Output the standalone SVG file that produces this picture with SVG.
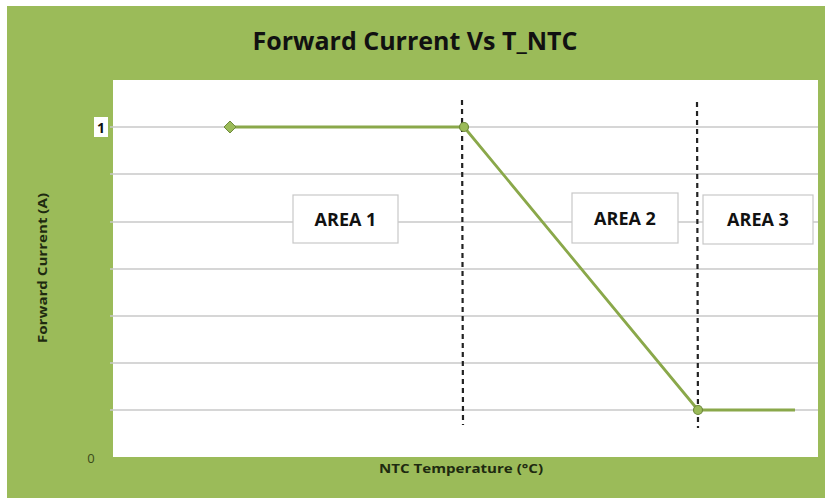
<svg xmlns="http://www.w3.org/2000/svg" width="825" height="498" viewBox="0 0 825 498">
<style>
.grid{stroke:#c8c8c8;stroke-width:1.5;fill:none}
.dash{stroke:#222;stroke-width:2.2;stroke-dasharray:5,4;fill:none}
.series{stroke:#8aa84a;stroke-width:2.8;fill:none}
.box{fill:#fff;stroke:#c8c8c8;stroke-width:1.2}
.lbl{font-family:"Open Sans","Liberation Sans",sans-serif;font-weight:bold;fill:#111}
.axis{font-family:"Open Sans","Liberation Sans",sans-serif;font-weight:bold;fill:#1e2a10}
</style>
<defs>
<marker id="dm" viewBox="-7 -7 14 14" markerWidth="14" markerHeight="14" markerUnits="userSpaceOnUse" refX="0" refY="0">
<path d="M0,-6 L6,0 L0,6 L-6,0 Z" fill="#9bbb59" stroke="#6f8a3c" stroke-width="1"/>
</marker>
</defs>
<rect x="0" y="0" width="825" height="498" fill="#fff"/>
<rect x="7" y="6" width="818" height="492" fill="#9bbb59"/>
<rect x="113" y="80" width="705" height="377" fill="#fff"/>
<text class="lbl" x="415" y="50" font-size="25" text-anchor="middle" textLength="325" lengthAdjust="spacingAndGlyphs">Forward Current Vs T_NTC</text>
<g id="grid">
<line class="grid" x1="110" y1="127" x2="818" y2="127"/>
<line class="grid" x1="110" y1="174" x2="818" y2="174"/>
<line class="grid" x1="110" y1="222" x2="818" y2="222"/>
<line class="grid" x1="110" y1="269" x2="818" y2="269"/>
<line class="grid" x1="110" y1="316" x2="818" y2="316"/>
<line class="grid" x1="110" y1="363" x2="818" y2="363"/>
<line class="grid" x1="110" y1="410" x2="818" y2="410"/>
</g>
<g id="axes">
<rect x="94" y="117" width="14" height="20" fill="#fff"/>
<text class="lbl" x="101" y="133" font-size="14" text-anchor="middle">1</text>
<text x="91" y="463" font-size="13" text-anchor="middle" style="font-family:'Open Sans','Liberation Sans',sans-serif;fill:#3a4a1a">0</text>
<text class="axis" x="461" y="473" font-size="12" text-anchor="middle" textLength="164" lengthAdjust="spacingAndGlyphs">NTC Temperature (°C)</text>
<text class="axis" transform="translate(47,268) rotate(-90)" font-size="12" text-anchor="middle" textLength="150" lengthAdjust="spacingAndGlyphs">Forward Current (A)</text>
</g>
<g id="connectors">
<line class="dash" x1="462" y1="100" x2="463" y2="425"/>
<line class="dash" x1="697" y1="102" x2="698" y2="428"/>
<polyline class="series" points="230,127 464,127 698,410 795,410" marker-start="url(#dm)"/>
<circle cx="464" cy="127" r="4.5" fill="#9bbb59" stroke="#6f8a3c" stroke-width="1.2"/>
<circle cx="698" cy="410" r="4.5" fill="#9bbb59" stroke="#6f8a3c" stroke-width="1.2"/>
</g>
<g id="area1">
<rect class="box" x="293" y="195" width="105" height="48"/>
<text class="lbl" x="345.5" y="226" font-size="18" text-anchor="middle">AREA 1</text>
</g>
<g id="area2">
<rect class="box" x="572" y="193" width="106" height="50"/>
<text class="lbl" x="625" y="225" font-size="18" text-anchor="middle">AREA 2</text>
</g>
<g id="area3">
<rect class="box" x="703" y="195" width="110" height="49"/>
<text class="lbl" x="758" y="226" font-size="18" text-anchor="middle">AREA 3</text>
</g>
</svg>
